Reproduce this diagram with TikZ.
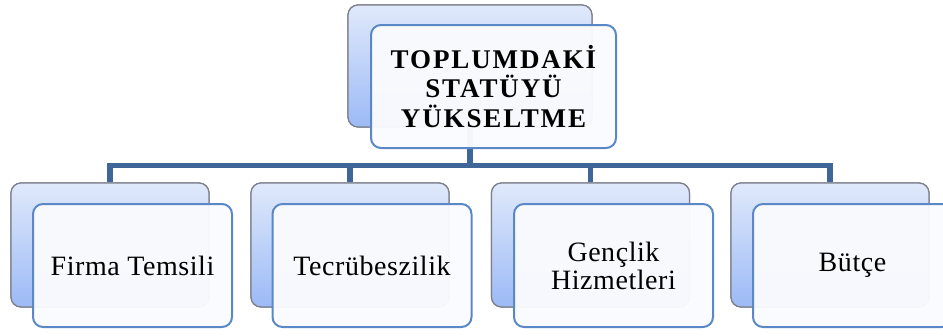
\documentclass[tikz,border=0pt]{standalone}
\usepackage{fontspec}
\setmainfont{Liberation Serif}
\definecolor{backtop}{HTML}{E0E9FB}
\definecolor{backbot}{HTML}{9CBAF6}
\definecolor{backline}{HTML}{7C808C}
\definecolor{frontline}{HTML}{5A88C6}
\definecolor{frontfill}{HTML}{FAFBFE}
\definecolor{connc}{HTML}{3F6699}
\begin{document}
\begin{tikzpicture}[x=1pt,y=-1pt,
  backbox/.style={draw=backline, line width=1.2pt, rounded corners=10pt,
    top color=backtop, bottom color=backbot, minimum width=198pt,
    minimum height=124pt, inner sep=0pt},
  frontbox/.style={draw=frontline, line width=2pt, rounded corners=10pt,
    fill=frontfill, fill opacity=0.96, text opacity=1, minimum width=199pt,
    minimum height=123pt, inner sep=0pt, align=center,
    font=\addfontfeature{LetterSpace=2}\fontsize{28}{28}\selectfont},
  conn/.style={draw=connc, line width=5.5pt}]
\clip (0,0) rectangle (943,335);
% back boxes
\node[backbox, minimum width=244pt, minimum height=122pt] (tb) at (470,66) {};
\node[backbox] (b1) at (110,245) {};
\node[backbox] (b2) at (350,245) {};
\node[backbox] (b3) at (590.5,245) {};
\node[backbox] (b4) at (830,245) {};
% connectors
\coordinate (hub) at (470,165.5);
\draw[conn] (tb.south) -- (hub);
\draw[conn] (b1.north) |- (hub) -| (b4.north);
\draw[conn] (b2.north) -- (b2.north |- hub);
\draw[conn] (b3.north) -- (b3.north |- hub);
% redraw back boxes over connector ends
\node[backbox, minimum width=244pt, minimum height=122pt] at (470,66) {};
\node[backbox] at (110,245) {};
\node[backbox] at (350,245) {};
\node[backbox] at (590.5,245) {};
\node[backbox] at (830,245) {};
% front boxes
\node[frontbox, minimum width=245pt,
  font=\bfseries\addfontfeature{LetterSpace=7}\fontsize{27}{29.5}\selectfont] (tf) at (493.5,86.5)
  {TOPLUMDAKİ\\STATÜYÜ\\YÜKSELTME};
\node[frontbox] (f1) at (132.5,265.5) {Firma Temsili};
\node[frontbox] (f2) at (372,265.5) {Tecrübeszilik};
\node[frontbox] (f3) at (613.5,265.5) {Gençlik\\Hizmetleri};
\node[frontbox] (f4) at (852.5,265.5) {Bütçe};
\end{tikzpicture}
\end{document}
